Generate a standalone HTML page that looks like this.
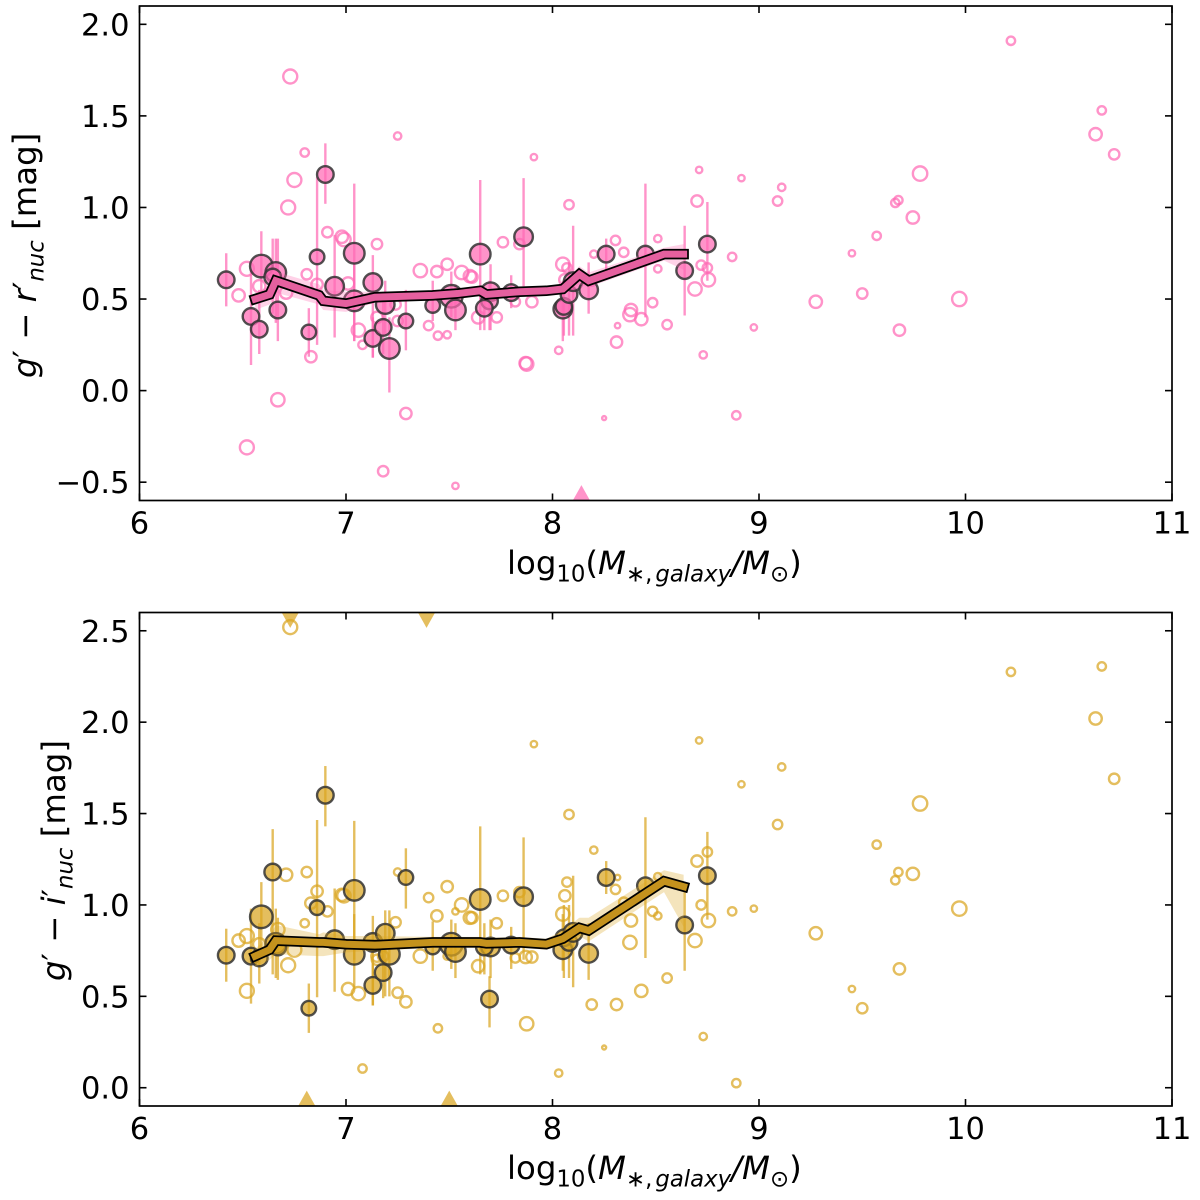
<!DOCTYPE html>
<html lang="en">
<head>
<meta charset="utf-8">
<title>Nuclear colour versus galaxy stellar mass</title>
<style>
html,body{margin:0;padding:0;background:#fff;width:1200px;height:1200px;overflow:hidden}
svg{display:block}
text{font-family:"DejaVu Sans",sans-serif;fill:#000}
</style>
</head>
<body>
<svg id="chart" xmlns="http://www.w3.org/2000/svg" width="1200" height="1200" viewBox="0 0 1200 1200">
  <rect width="1200" height="1200" fill="#fff"/>
  <defs>
    <clipPath id="clip-top"><rect x="139.5" y="6" width="1032.5" height="494.5"/></clipPath>
    <clipPath id="clip-bottom"><rect x="139.5" y="612.5" width="1032.5" height="493.5"/></clipPath>
  </defs>
  <g id="panel-top"></g>
  <g id="panel-bottom"></g>

  <text x="507" y="574" font-size="32.4">log<tspan font-size="22.8" dy="7.5">10</tspan><tspan dy="-7.5">(</tspan><tspan font-style="italic">M</tspan><tspan font-size="22.8" dy="7.5">∗</tspan><tspan font-size="22.8">,</tspan><tspan font-size="22.8" font-style="italic" dx="3">galaxy</tspan><tspan font-style="italic" dy="-7.5">/M</tspan><tspan font-size="22.8" dy="7.5">⊙</tspan><tspan dy="-7.5">)</tspan></text>
  <text x="507" y="1179" font-size="32.4">log<tspan font-size="22.8" dy="7.5">10</tspan><tspan dy="-7.5">(</tspan><tspan font-style="italic">M</tspan><tspan font-size="22.8" dy="7.5">∗</tspan><tspan font-size="22.8">,</tspan><tspan font-size="22.8" font-style="italic" dx="3">galaxy</tspan><tspan font-style="italic" dy="-7.5">/M</tspan><tspan font-size="22.8" dy="7.5">⊙</tspan><tspan dy="-7.5">)</tspan></text>
  <text transform="translate(36,378) rotate(-90)" font-size="32.4"><tspan font-style="italic">g</tspan><tspan>′ − </tspan><tspan font-style="italic">r</tspan><tspan>′</tspan><tspan font-size="22.8" font-style="italic" dy="7.5">nuc</tspan><tspan dy="-7.5"> [mag]</tspan></text>
  <text transform="translate(65,981) rotate(-90)" font-size="32.4"><tspan font-style="italic">g</tspan><tspan>′ − </tspan><tspan font-style="italic">i</tspan><tspan>′</tspan><tspan font-size="22.8" font-style="italic" dy="7.5">nuc</tspan><tspan dy="-7.5"> [mag]</tspan></text>
</svg>
<script>
// ---- shared axis tick labels
var xTickLabels = ["6", "7", "8", "9", "10", "11"];
var topYTickLabels = ["−0.5", "0.0", "0.5", "1.0", "1.5", "2.0"];
var bottomYTickLabels = ["0.0", "0.5", "1.0", "1.5", "2.0", "2.5"];

// ---- nucleated galaxies with measured uncertainties
var detMass = [6.42,6.59,6.66,6.645,6.54,6.58,6.67,6.82,6.86,6.9,6.945,7.04,7.04,7.13,7.13,7.18,7.19,7.21,7.29,7.42,7.51,7.53,7.65,7.70,7.695,7.67,7.8,7.86,8.05,8.055,8.08,8.1,8.175,8.26,8.45,8.64,8.75];
var detSize = [8,11,10,8,8,8,8,7,7,8,9,10,10,9,8,8,9,10,7,7,11,10,10,9,8,8,8,9,9,8,8,9,9,8,8,8,8];
var detGR = [0.605,0.68,0.645,0.62,0.405,0.335,0.44,0.32,0.73,1.18,0.57,0.75,0.49,0.59,0.285,0.345,0.47,0.23,0.38,0.465,0.515,0.44,0.745,0.54,0.49,0.45,0.535,0.84,0.445,0.46,0.525,0.595,0.55,0.745,0.745,0.655,0.80];
var detGRLow = [0.46,0.49,0.37,0.42,0.14,0.20,0.27,0.185,0.25,1.02,0.29,0.27,0.27,0.18,0.18,0.2,0.3,-0.01,0.22,0.38,0.4,0.33,0.33,0.33,0.33,0.33,0.45,0.57,0.27,0.3,0.3,0.3,0.42,0.66,0.4,0.41,0.6];
var detGRHigh = [0.75,0.87,0.83,0.83,0.66,0.55,0.83,0.45,1.165,1.35,0.85,1.13,0.7,0.74,0.4,0.5,0.6,0.4,0.55,0.6,0.65,0.58,1.15,0.69,0.6,0.55,0.63,1.16,0.6,0.6,0.7,0.9,0.7,0.83,1.13,0.9,1.03];
var detGI = [0.725,0.935,0.79,1.18,0.72,0.71,0.77,0.435,0.985,1.60,0.81,1.08,0.73,0.795,0.56,0.63,0.845,0.73,1.15,0.77,0.785,0.745,1.03,0.77,0.485,0.77,0.78,1.045,0.755,0.82,0.795,0.85,0.735,1.15,1.105,0.89,1.16];
var detGILow = [0.58,0.75,0.60,0.62,0.46,0.57,0.59,0.30,0.495,1.43,0.525,0.7,0.55,0.45,0.45,0.49,0.5,0.5,0.98,0.64,0.65,0.6,0.62,0.6,0.33,0.62,0.65,0.7,0.64,0.6,0.6,0.55,0.59,1.06,0.71,0.64,0.92];
var detGIHigh = [0.87,1.125,0.98,1.415,0.98,0.9,0.93,0.57,1.465,1.76,1.09,1.46,0.95,0.94,0.68,0.75,0.97,0.97,1.31,0.91,0.92,0.9,1.43,0.92,0.61,0.9,0.88,1.37,0.95,1.0,1.0,1.16,0.9,1.24,1.48,1.07,1.4];

// ---- galaxies without uncertainty bars (open circles)
var openMass = [10.63,10.66,10.72,10.22,9.97,9.78,9.745,9.68,9.675,9.66,9.57,9.5,9.45,9.275,9.11,9.09,8.975,8.915,8.89,8.87,8.755,8.75,8.73,8.72,8.71,8.7,8.69,8.08,7.76,7.84,8.05,8.07,8.06,8.2,8.345,8.305,8.51,8.51,8.485,8.555,8.31,8.03,8.315,8.38,8.375,8.43,8.25,7.875,7.87,7.9,7.82,7.73,7.64,7.61,6.73,6.72,6.75,6.91,6.98,6.99,7.15,6.52,6.52,6.48,6.58,6.71,6.81,6.86,6.83,6.67,7.01,7.06,7.08,7.15,7.24,7.25,7.29,7.4,7.36,7.44,7.49,7.445,7.49,7.56,7.6,7.53,7.18,7.25,6.8,7.91,8.19];
var openSize = [6.5,4.5,5.5,4.5,7.5,7.5,6.5,6,4.5,4.5,4.5,5.5,3.5,6.5,4,5,3.5,3.5,4.5,4.5,7,5,4,5,3.5,6,7,5,5.5,5.5,7,5,6,4,5,5,4,4,5,5,6,4,3,6.5,7,6.5,2.3,7,6.5,6,5,5.5,6.5,6,7.3,7.3,7.3,5.5,6.5,7,5.5,7.3,7.3,6.5,6.5,6.5,5.5,6,6,7,6.5,7,4.5,6,5.5,5.5,6,5,7,6,6,4.5,4,7,6.5,3.5,5.5,4,4.5,3.5,5.5];
var openGR = [1.40,1.53,1.29,1.91,0.50,1.185,0.945,0.33,1.04,1.025,0.845,0.53,0.75,0.485,1.11,1.035,0.345,1.16,-0.135,0.73,0.605,0.67,0.195,0.685,1.205,1.035,0.555,1.015,0.81,0.80,0.69,0.67,0.605,0.745,0.755,0.82,0.83,0.665,0.48,0.36,0.265,0.22,0.355,0.44,0.415,0.39,-0.15,0.145,0.15,0.485,0.485,0.40,0.40,0.62,1.715,1.0,1.15,0.865,0.84,0.825,0.80,0.665,-0.31,0.52,0.57,0.535,0.635,0.58,0.185,-0.05,0.585,0.33,0.25,0.40,0.47,0.38,-0.125,0.355,0.655,0.65,0.69,0.30,0.305,0.645,0.625,-0.52,-0.44,1.39,1.30,1.275,0.60];
var openGI = [2.02,2.305,1.69,2.275,0.98,1.555,1.17,0.65,1.18,1.135,1.33,0.435,0.54,0.845,1.755,1.44,0.98,1.66,0.025,0.965,0.915,1.29,0.28,1.0,1.90,1.24,0.805,1.495,1.05,1.07,0.95,1.125,1.05,1.30,1.015,1.085,1.155,0.94,0.965,0.60,0.455,0.08,1.15,0.915,0.795,0.53,0.22,0.35,0.715,0.715,0.71,0.90,0.665,0.93,2.52,0.67,0.755,0.965,1.055,1.05,0.70,0.83,0.53,0.805,0.785,1.165,1.18,1.075,1.01,0.865,0.54,0.515,0.105,0.72,0.905,0.52,0.47,1.04,0.72,0.94,1.10,0.325,0.72,1.0,0.93,0.965,0.72,1.18,0.9,1.88,0.455];

// ---- running medians and their shaded ranges
var medianMass = [6.56,6.63,6.66,6.87,6.89,7.0,7.14,7.42,7.54,7.65,7.68,7.84,7.97,8.05,8.13,8.175,8.54,8.635];
var medianGR = [0.5,0.525,0.60,0.52,0.49,0.475,0.51,0.52,0.53,0.545,0.525,0.54,0.545,0.555,0.635,0.60,0.745,0.745];
var bandGRLow = [0.44,0.47,0.535,0.47,0.44,0.43,0.48,0.495,0.505,0.52,0.505,0.52,0.525,0.53,0.58,0.565,0.71,0.66];
var bandGRHigh = [0.52,0.58,0.65,0.58,0.55,0.54,0.54,0.545,0.555,0.57,0.55,0.56,0.565,0.58,0.68,0.645,0.78,0.80];
var medianGI = [0.72,0.755,0.805,0.795,0.795,0.785,0.78,0.795,0.795,0.795,0.79,0.795,0.785,0.815,0.875,0.86,1.13,1.10];
var bandGILow = [0.66,0.70,0.73,0.72,0.72,0.74,0.75,0.765,0.765,0.765,0.76,0.765,0.755,0.78,0.83,0.80,1.07,0.88];
var bandGIHigh = [0.76,0.83,0.89,0.84,0.85,0.83,0.83,0.825,0.825,0.825,0.82,0.825,0.815,0.86,0.93,0.93,1.19,1.165];

// ---- limits drawn as triangles at the edge of each panel
var topUpperMass = [];
var topUpperValue = [];
var topLowerMass = [8.14];
var topLowerValue = [-0.565];
var bottomUpperMass = [6.73, 7.39];
var bottomUpperValue = [2.565, 2.565];
var bottomLowerMass = [6.81, 7.5];
var bottomLowerValue = [-0.065, -0.065];

var NS = "http://www.w3.org/2000/svg";
var AX_LEFT = 139.5, AX_RIGHT = 1172;
function xScale(v) { return AX_LEFT + (v - 6) / 5 * (AX_RIGHT - AX_LEFT); }
function make(parent, tag, attrs) {
  var el = document.createElementNS(NS, tag);
  for (var k in attrs) el.setAttribute(k, attrs[k]);
  parent.appendChild(el);
  return el;
}
function openRadius(s) { return s - 0.3; }
function detRadius(s) { return s + 0.3; }

function drawPanel(cfg) {
  var root = document.getElementById(cfg.id);
  var yScale = function (v) { return cfg.bottom - (v - cfg.yMin) / (cfg.yMax - cfg.yMin) * (cfg.bottom - cfg.top); };
  var plot = make(root, "g", { "clip-path": "url(#" + cfg.clip + ")" });
  
  

  detMass.forEach(function (m, i) {
    var bar = make(plot, "line", { x1: xScale(m), x2: xScale(m), y1: yScale(cfg.detLow[i]), y2: yScale(cfg.detHigh[i]), stroke: cfg.color, "stroke-opacity": 0.72, "stroke-width": 2.4 });
    
    
  });
  openMass.forEach(function (m, i) {
    var c = make(plot, "circle", { cx: xScale(m), cy: yScale(cfg.open[i]), r: openRadius(openSize[i]), fill: "none", stroke: cfg.color, "stroke-opacity": 0.72, "stroke-width": 2.4 });
    
    
  });
  detMass.forEach(function (m, i) {
    var c = make(plot, "circle", { cx: xScale(m), cy: yScale(cfg.det[i]), r: detRadius(detSize[i]), fill: cfg.color, "fill-opacity": 0.72, stroke: "#333", "stroke-opacity": 0.85, "stroke-width": 2.4 });
    
    
  });

  var upper = medianMass.map(function (m, i) { return xScale(m) + "," + yScale(cfg.bandHigh[i]); });
  var lower = medianMass.map(function (m, i) { return xScale(m) + "," + yScale(cfg.bandLow[i]); }).reverse();
  var band = make(plot, "polygon", { points: upper.concat(lower).join(" "), fill: cfg.color, "fill-opacity": 0.3 });
  
  

  var pts = medianMass.map(function (m, i) { return xScale(m) + "," + yScale(cfg.median[i]); }).join(" ");
  var outline = make(plot, "polyline", { points: pts, fill: "none", stroke: "#000", "stroke-width": 10.5, "stroke-linecap": "square", "stroke-linejoin": "miter" });
  
  
  var line = make(plot, "polyline", { points: pts, fill: "none", stroke: cfg.lineColor, "stroke-width": 7, "stroke-linecap": "square", "stroke-linejoin": "miter" });
  
  

  function triangle(m, v, dir) {
    var cx = xScale(m), cy = yScale(v);
    return make(plot, "polygon", { points: (cx - 9.5) + "," + (cy + dir * 8) + " " + (cx + 9.5) + "," + (cy + dir * 8) + " " + cx + "," + (cy - dir * 9), fill: cfg.color, "fill-opacity": 0.72 });
  }
  cfg.lowerMass.forEach(function (m, i) {
    var t = triangle(m, cfg.lowerValue[i], 1);
    
    
  });
  cfg.upperMass.forEach(function (m, i) {
    var t = triangle(m, cfg.upperValue[i], -1);
    
    
  });

  var frame = make(root, "rect", { x: AX_LEFT, y: cfg.top, width: AX_RIGHT - AX_LEFT, height: cfg.bottom - cfg.top, fill: "none", stroke: "#000", "stroke-width": 1.7 });
  
  

  xTickLabels.forEach(function (label) {
    var px = xScale(parseFloat(label));
    var t1 = make(root, "line", { x1: px, x2: px, y1: cfg.bottom, y2: cfg.bottom - 7, stroke: "#000", "stroke-width": 1.6 });
    
    
    var t2 = make(root, "line", { x1: px, x2: px, y1: cfg.top, y2: cfg.top + 7, stroke: "#000", "stroke-width": 1.6 });
    
    
    var tx = make(root, "text", { x: px, y: cfg.bottom + 33, "text-anchor": "middle", "font-size": 30.5 });
    tx.textContent = label;
    
    
  });
  cfg.yTicks.forEach(function (label) {
    var py = yScale(parseFloat(label.replace("−", "-")));
    var t1 = make(root, "line", { x1: AX_LEFT, x2: AX_LEFT + 7, y1: py, y2: py, stroke: "#000", "stroke-width": 1.6 });
    
    
    var t2 = make(root, "line", { x1: AX_RIGHT, x2: AX_RIGHT - 7, y1: py, y2: py, stroke: "#000", "stroke-width": 1.6 });
    
    
    var tx = make(root, "text", { x: AX_LEFT - 10, y: py + 11, "text-anchor": "end", "font-size": 30.5 });
    tx.textContent = label;
    
    
  });
}

drawPanel({
  id: "panel-top", clip: "clip-top", top: 6, bottom: 500.5, yMin: -0.6, yMax: 2.1,
  color: "#ff69b4", lineColor: "#e5609f", yTicks: topYTickLabels,
  det: detGR, detLow: detGRLow, detHigh: detGRHigh, open: openGR,
  median: medianGR, bandLow: bandGRLow, bandHigh: bandGRHigh,
  upperMass: topUpperMass, upperValue: topUpperValue, lowerMass: topLowerMass, lowerValue: topLowerValue
});
drawPanel({
  id: "panel-bottom", clip: "clip-bottom", top: 612.5, bottom: 1106, yMin: -0.1, yMax: 2.6,
  color: "#daa520", lineColor: "#c4921d", yTicks: bottomYTickLabels,
  det: detGI, detLow: detGILow, detHigh: detGIHigh, open: openGI,
  median: medianGI, bandLow: bandGILow, bandHigh: bandGIHigh,
  upperMass: bottomUpperMass, upperValue: bottomUpperValue, lowerMass: bottomLowerMass, lowerValue: bottomLowerValue
});
</script>
</body>
</html>
